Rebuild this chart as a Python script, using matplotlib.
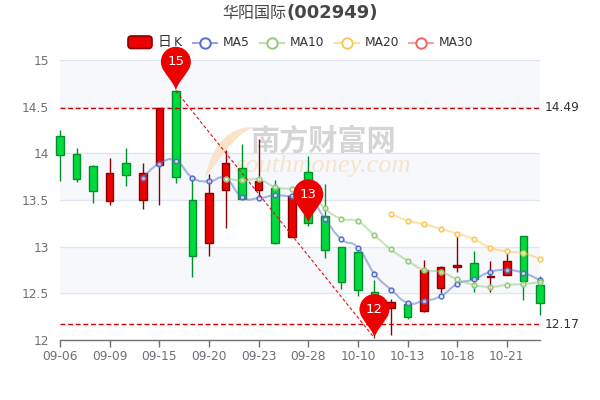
import numpy as np
import matplotlib
matplotlib.use('Agg')
import matplotlib.pyplot as plt
from matplotlib.path import Path
from matplotlib.patches import PathPatch, Rectangle, FancyBboxPatch
from matplotlib.transforms import IdentityTransform

plt.rcParams['font.family'] = ['DejaVu Sans', 'Noto Sans CJK SC']

title_name = '华阳国际'
title_code = '(002949)'
dates = ['09-06', '09-07', '09-08', '09-09', '09-12', '09-14', '09-15', '09-16', '09-19',
         '09-20', '09-21', '09-22', '09-23', '09-26', '09-27', '09-28', '09-29', '09-30',
         '10-10', '10-11', '10-12', '10-13', '10-14', '10-17', '10-18', '10-19', '10-20',
         '10-21', '10-24', '10-25']
y_ticks = [12, 12.5, 13, 13.5, 14, 14.5, 15]
y_labels = ['12', '12.5', '13', '13.5', '14', '14.5', '15']

# open / close / low / high, red when close > open
opens = [14.19, 13.99, 13.86, 13.49, 13.90, 13.50, 13.87, 14.67, 13.50, 13.04,
         13.61, 13.84, 13.61, 13.63, 13.10, 13.80, 13.33, 13.00, 12.94, 12.51,
         12.34, 12.39, 12.31, 12.56, 12.78, 12.82, 12.67, 12.70, 13.11, 12.59]
closes = [13.98, 13.73, 13.60, 13.79, 13.77, 13.79, 14.49, 13.75, 12.90, 13.58,
          13.90, 13.51, 13.70, 13.04, 13.54, 13.25, 12.96, 12.62, 12.54, 12.20,
          12.41, 12.25, 12.75, 12.78, 12.80, 12.65, 12.69, 12.85, 12.63, 12.40]
lows = [13.70, 13.69, 13.47, 13.45, 13.65, 13.40, 13.45, 13.68, 12.68, 12.90,
        13.20, 13.51, 13.52, 13.03, 13.10, 13.22, 12.88, 12.55, 12.47, 12.02,
        12.05, 12.23, 12.30, 12.50, 12.73, 12.51, 12.51, 12.70, 12.43, 12.27]
highs = [14.25, 14.06, 13.88, 13.95, 14.06, 13.90, 14.49, 14.68, 13.75, 13.78,
         14.04, 14.10, 14.15, 13.71, 13.54, 13.97, 13.67, 13.00, 12.95, 12.64,
         12.44, 12.40, 12.86, 12.79, 13.11, 12.95, 12.85, 12.93, 13.11, 12.69]

ma5 = [None]*5 + [13.74, 13.89, 13.92, 13.74, 13.70, 13.73, 13.53, 13.52, 13.55, 13.54,
                  13.55, 13.30, 13.08, 12.99, 12.71, 12.54, 12.40, 12.42, 12.47, 12.60,
                  12.65, 12.73, 12.75, 12.72, 12.64]
ma10 = [None]*10 + [13.73, 13.71, 13.72, 13.64, 13.62, 13.62, 13.41, 13.30, 13.27, 13.12,
                    12.97, 12.85, 12.75, 12.73, 12.65, 12.59, 12.57, 12.59, 12.60, 12.62]
ma20 = [None]*20 + [13.35, 13.28, 13.24, 13.19, 13.14, 13.08, 12.99, 12.95, 12.93, 12.87]

pins = [(7, 14.67, '15'), (15, 13.25, '13'), (19, 12.02, '12')]
ref_levels = [14.49, 12.17]
ref_labels = ['14.49', '12.17']

UP, UP_EDGE = '#ec0000', '#8a0000'
DOWN, DOWN_EDGE = '#00da3c', '#008f28'
GRAY = '#6e7079'


def px_x(x):
    return x/600.


def px_y(y):
    return 1 - y/400.


def smooth_path(xs, ys):
    # bezier through the points, same idea as the smooth lines of the original
    pts = np.array(list(zip(xs, ys)), dtype=float)
    verts = [pts[0]]
    codes = [Path.MOVETO]
    for i in range(len(pts)-1):
        prev = pts[max(i-1, 0)]
        nxt = pts[min(i+2, len(pts)-1)]
        verts.append(pts[i] + (pts[i+1]-prev)*0.25)
        verts.append(pts[i+1] - (nxt-pts[i])*0.25)
        verts.append(pts[i+1])
        codes += [Path.CURVE4]*3
    return Path(verts, codes)


def draw_ma(ax, values, color):
    xs = [i for i, v in enumerate(values) if v is not None]
    ys = [v for v in values if v is not None]
    ax.add_patch(PathPatch(smooth_path(xs, ys), fc='none', ec=color, lw=1.5, alpha=0.5,
                           zorder=5, clip_on=False))
    ax.plot(xs, ys, ls='none', marker='o', ms=3.4, mfc='#ffffffaa', mec=color, mew=1.1,
            zorder=6, clip_on=False)


def pin_path(x0, y0, r=15., h=29.):
    # teardrop in display pixels, tip on (x0, y0)
    arc = Path.arc(-32, 212)
    verts = arc.vertices*r + [x0, y0+h]
    codes = list(arc.codes)
    start = verts[0]
    end = verts[-1]
    tip = np.array([x0, y0])
    v = list(verts)
    c = codes
    v += [end + [3.5, -6], tip + [-0.8, 6], tip, tip + [0.8, 6], start + [-3.5, -6], start]
    c += [Path.CURVE4]*6
    return Path(v, c)


fig = plt.figure(figsize=(6, 4), dpi=100)
ax = fig.add_axes([px_x(60), px_y(340), 480/600., 280/400.])
ax.set_xlim(0, 29)
ax.set_ylim(12, 15)

for side in ['top', 'right', 'left']:
    ax.spines[side].set_visible(False)
ax.spines['bottom'].set_color(GRAY)
ax.spines['bottom'].set_linewidth(1)

# alternating bands and split lines
for i in range(1, len(y_ticks)-1, 2):
    ax.axhspan(y_ticks[i], y_ticks[i+1], fc='#f6f8fc', ec='none', zorder=0)
for t in y_ticks[1:]:
    ax.axhline(t, color='#e0e6f1', lw=1, zorder=1)

ax.set_yticks(y_ticks)
ax.set_yticklabels(y_labels, color=GRAY, fontsize=8.8)
ax.tick_params(axis='y', length=0, pad=8)
tick_pos = list(range(0, 30, 3))
ax.set_xticks(tick_pos)
ax.set_xticklabels([dates[i] for i in tick_pos], color=GRAY, fontsize=8.8)
ax.tick_params(axis='x', length=5, width=1, color=GRAY, pad=2.5)

# watermark, under the candles
ax.text(px_x(250), px_y(141), '南方财富网', family='Noto Sans CJK SC', weight='bold', fontsize=21,
        color='#c4c4c4', alpha=0.7, ha='left', va='center', zorder=2, transform=fig.transFigure,
        clip_on=False)
ax.text(px_x(236), px_y(166), 'southmoney.com', family='Liberation Serif', style='italic', fontsize=19,
        color='#f5dfc2', alpha=0.8, ha='left', va='center', zorder=2, transform=fig.transFigure,
        clip_on=False)
swirl = [(205, 178), (212, 145), (228, 126), (256, 127), (240, 130), (226, 150), (205, 178)]
ax.add_patch(PathPatch(Path([(px_x(a), px_y(b)) for a, b in swirl],
                            [Path.MOVETO] + [Path.CURVE4]*6),
                       fc='#f9e2c4', ec='none', alpha=0.9, transform=fig.transFigure, zorder=2,
                       clip_on=False))

# candles
body_w = 0.46
for i in range(len(opens)):
    up = closes[i] > opens[i]
    fc, ec = (UP, UP_EDGE) if up else (DOWN, DOWN_EDGE)
    ax.plot([i, i], [lows[i], highs[i]], color=ec, lw=1, zorder=3, clip_on=False,
            solid_capstyle='butt')
    ax.add_patch(Rectangle((i-body_w/2, min(opens[i], closes[i])), body_w, abs(closes[i]-opens[i]),
                           fc=fc, ec=ec, lw=1, zorder=4, clip_on=False))

draw_ma(ax, ma5, '#5470c6')
draw_ma(ax, ma10, '#91cc75')
draw_ma(ax, ma20, '#fac858')

# reference lines
for level, label in zip(ref_levels, ref_labels):
    ax.axhline(level, color='#d00000', lw=1, ls=(0, (3.5, 2)), zorder=7)
    ax.annotate(label, (1, level), xycoords=('axes fraction', 'data'), xytext=(3.5, 0),
                textcoords='offset points', color='#333333', fontsize=8.8, va='center', ha='left')

# markers and the dashed line between the peak and the trough
fig.canvas.draw()
ax.plot([pins[0][0], pins[2][0]], [pins[0][1], pins[2][1]], color='#e81010', lw=0.8,
        ls=(0, (3, 2)), zorder=7, clip_on=False)
for px, py, txt in pins:
    dx, dy = ax.transData.transform((px, py))
    fig.add_artist(PathPatch(pin_path(dx, dy), fc='#ec0000', ec='none', transform=IdentityTransform(),
                             zorder=8))
    fig.text(dx/600., (dy+29)/400., txt, color='white', fontsize=9.5, ha='center', va='center', zorder=9)

# title
fig.text(px_x(286.5), px_y(13), title_name, family='Noto Sans CJK SC', fontsize=11.5, color='#464646',
         ha='right', va='center')
fig.text(px_x(287), px_y(13), title_code, family='DejaVu Sans', weight='bold', fontsize=13, color='#464646',
         ha='left', va='center')

# legend
fig.add_artist(FancyBboxPatch((128, 400-48.5), 24, 12.5, boxstyle='round,pad=0,rounding_size=3.5',
                              fc=UP, ec=UP_EDGE, lw=1.2, transform=IdentityTransform(), zorder=5))
fig.text(px_x(158), px_y(42), '日', family='Noto Sans CJK SC', fontsize=10, color='#333333', ha='left', va='center')
fig.text(px_x(173.5), px_y(43), 'K', fontsize=8.8, color='#333333', ha='left', va='center')
legend_items = [('MA5', '#5470c6', 193), ('MA10', '#91cc75', 260), ('MA20', '#fac858', 335), ('MA30', '#ee6666', 409)]
for name, color, x0 in legend_items:
    fig.add_artist(plt.Line2D([px_x(x0), px_x(x0+24)], [px_y(42.5), px_y(42.5)], color=color, lw=1.5, alpha=0.6,
                              transform=fig.transFigure))
    fig.add_artist(plt.Line2D([px_x(x0+12)], [px_y(42.5)], marker='o', ms=7.5, mfc='white', mec=color, mew=1.4,
                              transform=fig.transFigure))
    fig.text(px_x(x0+30), px_y(42.5), name, fontsize=8.8, color='#333333', ha='left', va='center')

fig.savefig('out.png', dpi=100)
plt.close(fig)
